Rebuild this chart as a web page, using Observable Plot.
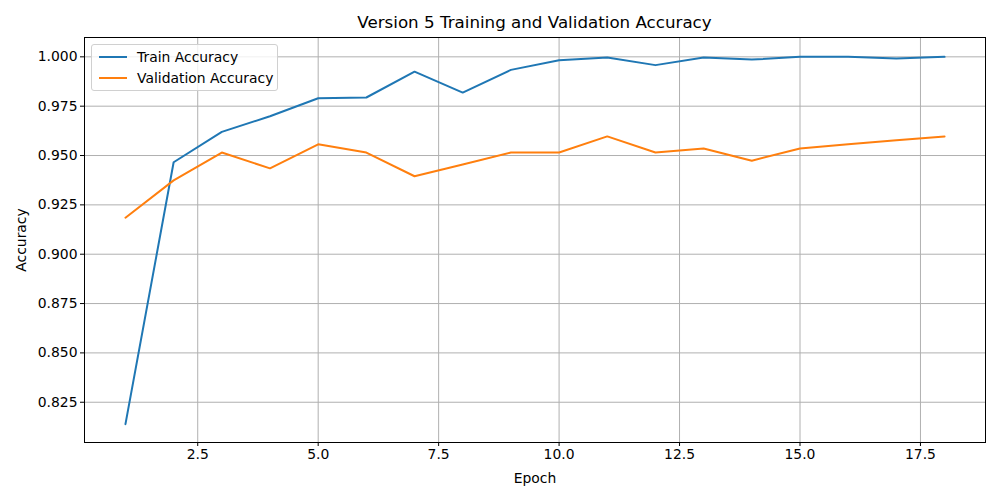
<!DOCTYPE html>
<html>
<head>
<meta charset="utf-8">
<script src="https://cdn.jsdelivr.net/npm/d3@7"></script>
<script src="https://cdn.jsdelivr.net/npm/@observablehq/plot@0.6"></script>
<style>
  body { margin: 0; background: #fff; font-family: "DejaVu Sans", sans-serif; }
  #wrap { position: relative; width: 1000px; height: 500px; }
  #title { position: absolute; left: 84px; width: 901px; top: 12px; text-align: center; font-size: 16.7px; line-height: 20px; color: #000; }
  #chart { position: absolute; left: 0; top: 37px; }
  #legend { position: absolute; left: 91px; top: 44px; width: 185px; height: 45px; border: 1px solid #d0d0d0; border-radius: 3px; background: rgba(255,255,255,0.8); font-size: 13.9px; }
  .item { position: absolute; left: 7px; height: 20px; display: flex; align-items: center; }
  .sw { width: 28px; height: 2px; margin-right: 10px; }
</style>
</head>
<body>
<div id="wrap">
  <div id="title">Version 5 Training and Validation Accuracy</div>
  <div id="chart"></div>
  <div id="legend"></div>
</div>
<script>
const epochs = [1,2,3,4,5,6,7,8,9,10,11,12,13,14,15,16,17,18];
const trainAcc = [0.8139,0.9466,0.9620,0.9699,0.9790,0.9794,0.9925,0.9819,0.9934,0.9983,0.9997,0.9958,0.9997,0.9986,1.0000,1.0000,0.9991,1.0000];
const valAcc = [0.9185,0.9374,0.9515,0.9435,0.9557,0.9515,0.9395,0.9455,0.9515,0.9515,0.9597,0.9515,0.9536,0.9474,0.9536,0.9557,0.9577,0.9597];
const seriesNames = ["Train Accuracy", "Validation Accuracy"];
const seriesColors = ["#1f77b4", "#ff7f0e"];
const xTicks = [2.5,5.0,7.5,10.0,12.5,15.0,17.5];
const yTicks = [0.825,0.850,0.875,0.900,0.925,0.950,0.975,1.000];

const rows = [];
epochs.forEach((e,i) => {
  rows.push({epoch: e, acc: trainAcc[i], series: seriesNames[0]});
  rows.push({epoch: e, acc: valAcc[i], series: seriesNames[1]});
});

const chart = Plot.plot({
  width: 1000,
  height: 463,
  marginTop: 0,
  marginBottom: 58,
  marginLeft: 84,
  marginRight: 15,
  style: {fontFamily: "DejaVu Sans, sans-serif", fontSize: "13.9px", color: "#000", background: "#fff", overflow: "visible"},
  x: {domain: [0.15, 18.85]},
  y: {domain: [0.8046, 1.0098]},
  color: {domain: seriesNames, range: seriesColors},
  marks: [
    Plot.gridX(xTicks, {stroke: "#b0b0b0", strokeOpacity: 1, strokeWidth: 1}),
    Plot.gridY(yTicks, {stroke: "#b0b0b0", strokeOpacity: 1, strokeWidth: 1}),
    Plot.line(rows, {x: "epoch", y: "acc", stroke: "series", z: "series", strokeWidth: 2}),
    Plot.axisX(xTicks, {tickFormat: d3.format(".1f"), tickSize: 4, tickPadding: 3, label: "Epoch", labelAnchor: "center", labelArrow: "none", labelOffset: 40, fontSize: 13.9}),
    Plot.axisY(yTicks, {tickFormat: d3.format(".3f"), tickSize: 4, tickPadding: 3, label: "Accuracy", labelAnchor: "center", labelArrow: "none", labelOffset: 68, fontSize: 13.9}),
    Plot.frame({stroke: "#000", strokeWidth: 1})
  ]
});
document.getElementById("chart").appendChild(chart);

const legend = document.getElementById("legend");
seriesNames.forEach((name, i) => {
  const it = document.createElement("div");
  it.className = "item";
  it.style.top = (2 + i * 21) + "px";
  const sw = document.createElement("div");
  sw.className = "sw";
  sw.style.background = seriesColors[i];
  it.appendChild(sw);
  const t = document.createElement("span");
  t.textContent = name;
  it.appendChild(t);
  legend.appendChild(it);
});
</script>
</body>
</html>
